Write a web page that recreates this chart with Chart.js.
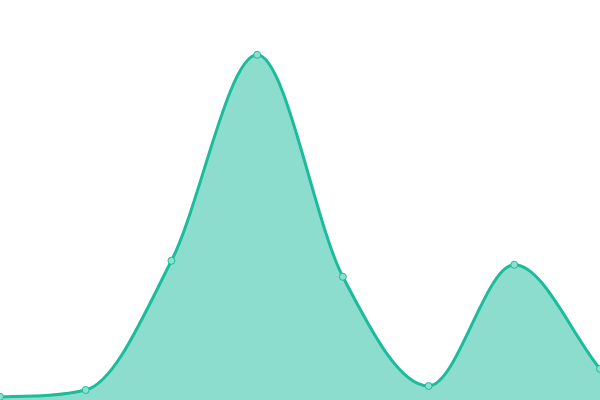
<!DOCTYPE html>
<html>
<head>
<meta charset="utf-8">
<script src="https://cdn.jsdelivr.net/npm/chart.js@4/dist/chart.umd.min.js"></script>
<style>
html,body{margin:0;padding:0;background:#fff;}
#wrap{width:600px;height:400px;}
</style>
</head>
<body>
<div id="wrap"><canvas id="c"></canvas></div>
<script>
const labels = ['1','2','3','4','5','6','7','8'];
const values = [0.8, 2.5, 34.8, 86.3, 30.8, 3.5, 33.8, 7.8];
const yMin = 0, yMax = 100;

new Chart(document.getElementById('c').getContext('2d'), {
  type: 'line',
  data: {
    labels: labels,
    datasets: [{
      data: values,
      borderColor: '#1abc9c',
      backgroundColor: 'rgba(26,188,156,0.5)',
      borderWidth: 3,
      fill: true,
      cubicInterpolationMode: 'monotone',
      pointRadius: 3.5,
      pointBorderWidth: 1,
      pointBackgroundColor: '#8de0cf',
      pointBorderColor: '#1abc9c'
    }]
  },
  options: {
    responsive: true,
    maintainAspectRatio: false,
    animation: false,
    layout: {padding: 0, autoPadding: false},
    plugins: {legend: {display: false}, tooltip: {enabled: false}},
    scales: {
      x: {display: false, offset: false},
      y: {display: false, min: yMin, max: yMax}
    }
  }
});
</script>
</body>
</html>
